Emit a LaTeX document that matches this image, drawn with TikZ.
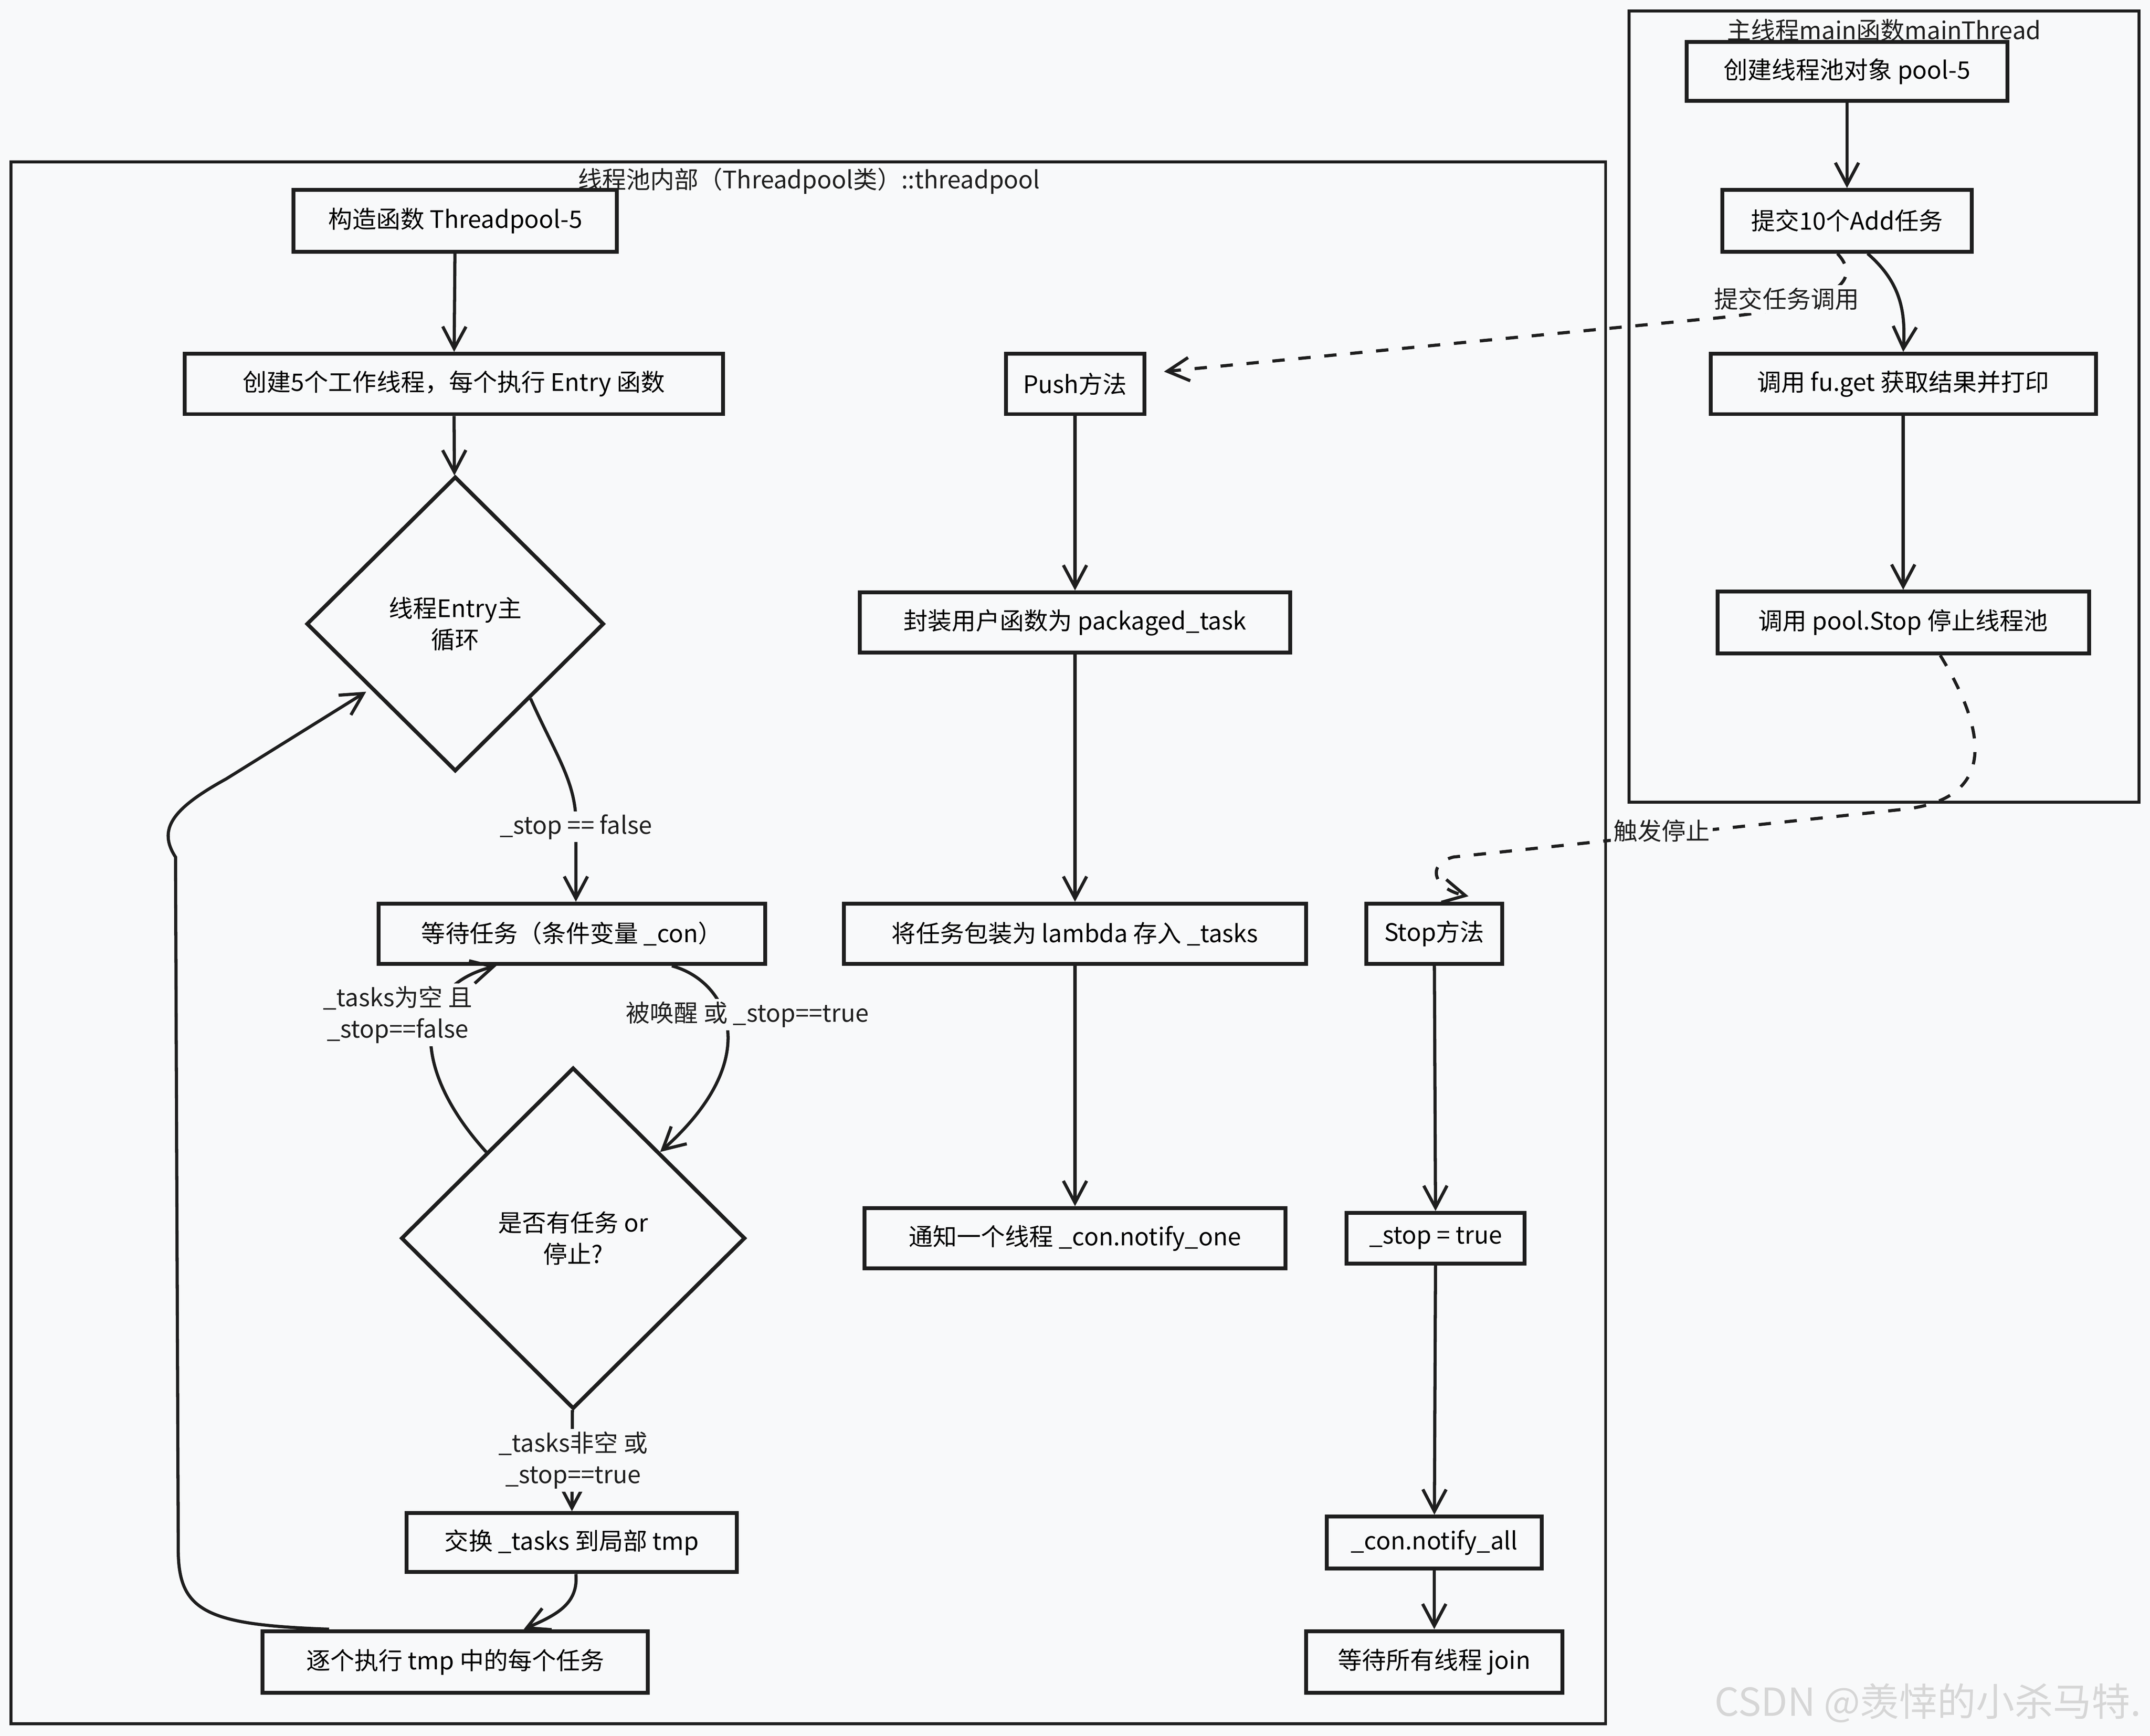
\documentclass[tikz,border=0pt]{standalone}
\usepackage{fontspec}
\newfontfamily\cjk{Noto Sans CJK SC}
\usetikzlibrary{arrows.meta}
\usetikzlibrary{shapes.geometric}
\definecolor{bgc}{RGB}{248,249,250}
\definecolor{ink}{RGB}{30,30,30}
\tikzset{%
	blk/.style={rectangle,draw=ink,line width=1.6,fill=bgc,font=\cjk\fontsize{10}{12}\selectfont,inner sep=0,minimum height=0.88cm},
	dmd/.style={diamond,draw=ink,line width=1.6,fill=bgc,font=\cjk\fontsize{10}{13}\selectfont,align=center,inner sep=0,aspect=1},
	frm/.style={draw=ink,line width=1.2},
	ttl/.style={font=\cjk\fontsize{10}{12}\selectfont,text=ink,inner sep=0.03cm},
	lbl/.style={fill=bgc,font=\cjk\fontsize{10}{13}\selectfont,text=ink,align=center,inner sep=0.04cm},
	arr/.style={-{Straight Barb[length=0.32cm,width=0.34cm]},line width=1.3,draw=ink},
	darr/.style={arr,dash pattern=on 0.18cm off 0.2cm},
}
\begin{document}
\begin{tikzpicture}[x=0.02cm,y=-0.02cm]
	\fill[bgc] (0,0) rectangle (1568,1266);
	\useasboundingbox (0,0) rectangle (1568,1266);
	
	% frames
	\draw[frm] (8,118) rectangle (1171,1257);
	\draw[frm] (1188,8) rectangle (1560,585);
	\node (tl) at (590,132) [ttl] {线程池内部（Threadpool类）::threadpool};
	\node (tr) at (1374,22) [ttl] {主线程main函数mainThread};
	
	% thread pool, worker loop
	\node (b1) at (332,161) [blk,minimum width=4.72cm,minimum height=0.9cm] {构造函数 Threadpool-5};
	\node (b2) at (331,280) [blk,minimum width=7.86cm] {创建5个工作线程，每个执行 Entry 函数};
	\node (d1) at (332,455) [dmd,minimum width=4.34cm,minimum height=4.3cm] {线程Entry主\\循环};
	\node (b3) at (417,681) [blk,minimum width=5.64cm] {等待任务（条件变量 \_con）};
	\node (d2) at (418,903) [dmd,minimum width=5.02cm,minimum height=4.98cm] {是否有任务 or\\停止?};
	\node (b4) at (417,1125) [blk,minimum width=4.82cm,minimum height=0.86cm] {交换 \_tasks 到局部 tmp};
	\node (b5) at (332,1212) [blk,minimum width=5.62cm,minimum height=0.9cm] {逐个执行 tmp 中的每个任务};
	
	% push
	\node (p1) at (784,280) [blk,minimum width=2.02cm] {Push方法};
	\node (p2) at (784,454) [blk,minimum width=6.28cm] {封装用户函数为 packaged\_task};
	\node (p3) at (784,681) [blk,minimum width=6.74cm] {将任务包装为 lambda 存入 \_tasks};
	\node (p4) at (784,903) [blk,minimum width=6.14cm] {通知一个线程 \_con.notify\_one};
	
	% stop
	\node (s1) at (1046,681) [blk,minimum width=1.98cm] {Stop方法};
	\node (s2) at (1047,903) [blk,minimum width=2.6cm,minimum height=0.74cm] {\_stop = true};
	\node (s3) at (1046,1125) [blk,minimum width=3.14cm,minimum height=0.76cm] {\_con.notify\_all};
	\node (s4) at (1046,1212) [blk,minimum width=3.74cm,minimum height=0.9cm] {等待所有线程 join};
	
	% main thread
	\node (m1) at (1347,52) [blk,minimum width=4.68cm,minimum height=0.86cm] {创建线程池对象 pool-5};
	\node (m2) at (1347,161) [blk,minimum width=3.64cm,minimum height=0.9cm] {提交10个Add任务};
	\node (m3) at (1388,280) [blk,minimum width=5.62cm] {调用 fu.get 获取结果并打印};
	\node (m4) at (1388,454) [blk,minimum width=5.42cm,minimum height=0.9cm] {调用 pool.Stop 停止线程池};
	
	\draw[arr] (b1) -- (b2);
	\draw[arr] (b2) -- (d1);
	\draw[arr] (d1.south east) .. controls (405,550) and (420,570) .. (420,600) -- ([xshift=0.06cm]b3.north);
	\node (l1) at (420,603) [lbl] {\_stop == false};
	\draw[arr] (d2.north west) .. controls (300,780) and (300,720) .. ([xshift=-1.1cm]b3.south);
	\node (l2) at (290,740) [lbl] {\_tasks为空 且\\\_stop==false};
	\draw[arr] ([xshift=1.46cm]b3.south) .. controls (530,715) and (560,770) .. (d2.north east);
	\node (l3) at (545,740) [lbl] {被唤醒 或 \_stop==true};
	\draw[arr] (d2) -- (b4);
	\node (l4) at (418,1065) [lbl] {\_tasks非空 或\\\_stop==true};
	\draw[arr] ([xshift=0.06cm]b4.south) .. controls (422,1170) and (405,1178) .. ([xshift=1cm]b5.north);
	\draw[arr] ([xshift=-1.84cm]b5.north) .. controls (150,1185) and (130,1175) .. (130,1130) -- (128,625) .. controls (115,605) and (125,590) .. (165,568) -- ([xshift=-0.2cm,yshift=0.1cm]d1.south west);
	
	\draw[arr] (p1) -- (p2);
	\draw[arr] (p2) -- (p3);
	\draw[arr] (p3) -- (p4);
	
	\draw[arr] (s1) -- (s2);
	\draw[arr] (s2) -- (s3);
	\draw[arr] (s3) -- (s4);
	
	\draw[arr] (m1) -- (m2);
	\draw[arr] ([xshift=0.3cm]m2.south) .. controls (1385,205) and (1390,225) .. (m3.north);
	\draw[arr] (m3) -- (m4);
	
	% calls between threads
	\draw[darr] ([xshift=-0.14cm]m2.south) .. controls (1368,215) and (1300,228) .. (1240,233) -- ([xshift=0.26cm,yshift=0.18cm]p1.east);
	\node (l5) at (1303,218) [lbl] {提交任务调用};
	\draw[darr] ([xshift=0.54cm]m4.south) .. controls (1450,535) and (1455,582) .. (1390,590) -- (1060,625) .. controls (1040,630) and (1045,648) .. ([xshift=0.5cm,yshift=0.08cm]s1.north);
	\node (l6) at (1212,606) [lbl] {触发停止};
	
	\node (wm) at (1250,1242) [anchor=west,inner sep=0,font=\cjk\fontsize{16}{18}\selectfont,text=black!16] {CSDN @羡悻的小杀马特.};
\end{tikzpicture}
\end{document}
